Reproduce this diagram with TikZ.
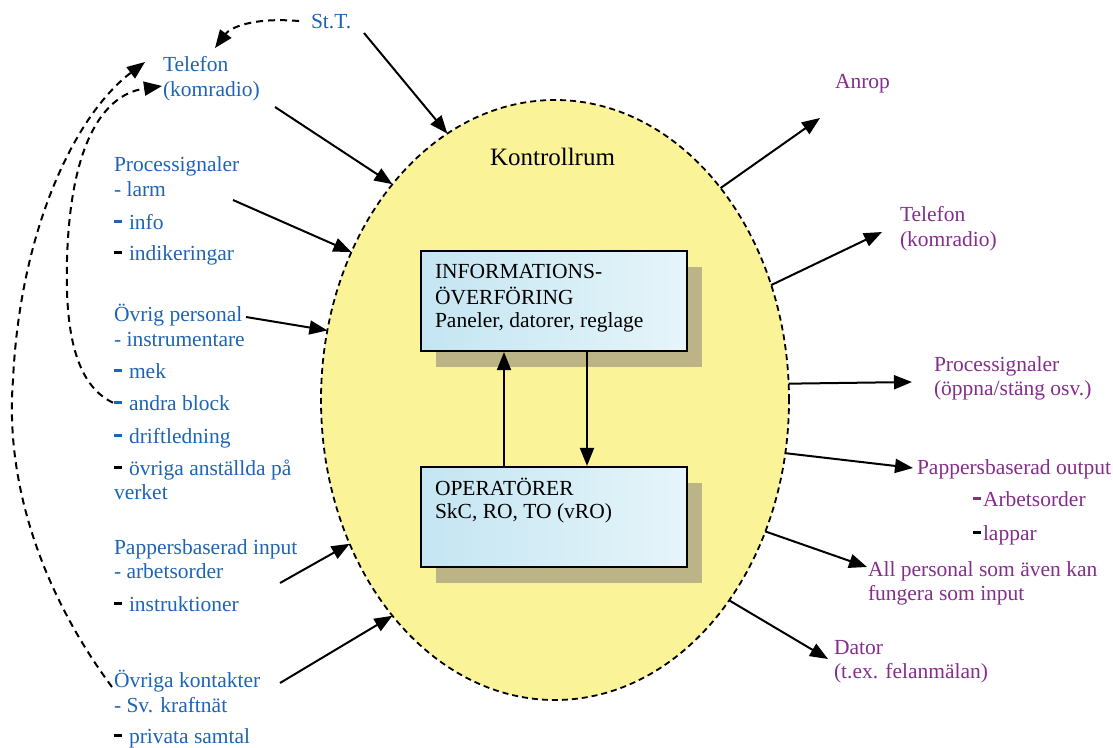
\documentclass[tikz,border=0pt]{standalone}
\usepackage{fontspec}
\setmainfont{Liberation Serif}
\usetikzlibrary{arrows.meta,shapes.geometric,shadows}

\definecolor{txtblue}{RGB}{30,100,180}
\definecolor{txtpurple}{RGB}{133,45,140}
\definecolor{roomfill}{RGB}{250,243,152}
\definecolor{boxtop}{RGB}{196,229,242}
\definecolor{boxbot}{RGB}{230,245,250}
\definecolor{shadowc}{RGB}{188,180,135}

% thick list dash in a given colour
\newcommand\bardash[1]{{\color{#1}\rule[6.2pt]{8pt}{2.8pt}}}

\begin{document}
\begin{tikzpicture}[x=1pt,y=-1pt,
  lbl/.style={anchor=base west,inner sep=0pt,outer sep=0pt,
              font=\fontsize{21.5}{24}\selectfont},
  inlbl/.style={lbl,text=txtblue},
  outlbl/.style={lbl,text=txtpurple},
  arrowline/.style={line width=2pt,-{Triangle[length=18pt,width=14pt]}},
  backlink/.style={arrowline,dash pattern=on 7pt off 5pt},
  panel/.style={draw,line width=2.2pt,left color=boxtop,right color=boxbot,
                minimum width=266pt,minimum height=100pt,inner sep=0pt,
                drop shadow={shadow xshift=15pt,shadow yshift=-16pt,
                             fill=shadowc,opacity=1}},
]
\useasboundingbox (0,0) rectangle (1113,747);

% the control room
\node[ellipse,draw,fill=roomfill,line width=1.8pt,dash pattern=on 6pt off 4pt,
      minimum width=468pt,minimum height=600pt,inner sep=0pt,outer sep=0pt]
      (room) at (555,400) {};
\node[lbl,font=\fontsize{25}{28}\selectfont] (roomlbl) at (490,165) {Kontrollrum};

% inner boxes
\node[panel] (info) at (554,301) {};
\node[panel] (ops) at (554,517) {};
\node[lbl] (infoT1) at (435,278) {INFORMATIONS-};
\node[lbl] (infoT2) at (435,304) {ÖVERFÖRING};
\node[lbl] (infoT3) at (435,327) {Paneler, datorer, reglage};
\node[lbl] (opsT1) at (435,495) {OPERATÖRER};
\node[lbl] (opsT2) at (435,518) {SkC, RO, TO (vRO)};
\draw[arrowline] ([xshift=-50pt]ops.north) -- ([xshift=-50pt]info.south);
\draw[arrowline] ([xshift=33pt]info.south) -- ([xshift=33pt]ops.north);

% incoming labels
\node[inlbl] (stt) at (311,28) {St.T.};
\node[inlbl] (telL1) at (163,71) {Telefon};
\node[inlbl] (telL2) at (163,96) {(komradio)};
\node[inlbl] (procL1) at (114,171) {Processignaler};
\node[inlbl] (procL2) at (114,196) {- larm};
\node[inlbl] (procL3) at (114,229) {\bardash{txtblue}\hspace{7pt}info};
\node[inlbl] (procL4) at (114,260) {\bardash{black}\hspace{7pt}indikeringar};
\node[inlbl] (persL1) at (114,321) {Övrig personal};
\node[inlbl] (persL2) at (114,346) {- instrumentare};
\node[inlbl] (persL3) at (114,378) {\bardash{txtblue}\hspace{7pt}mek};
\node[inlbl] (persL4) at (114,410) {\bardash{txtblue}\hspace{7pt}andra block};
\node[inlbl] (persL5) at (114,443) {\bardash{txtblue}\hspace{7pt}driftledning};
\node[inlbl] (persL6) at (114,475) {\bardash{black}\hspace{7pt}övriga anställda på};
\node[inlbl] (persL7) at (114,499) {verket};
\node[inlbl] (papL1) at (114,554) {Pappersbaserad input};
\node[inlbl] (papL2) at (114,578) {- arbetsorder};
\node[inlbl] (papL3) at (114,611) {\bardash{black}\hspace{7pt}instruktioner};
\node[inlbl] (kontL1) at (114,687) {Övriga kontakter};
\node[inlbl] (kontL2) at (114,712) {- Sv. kraftnät};
\node[inlbl] (kontL3) at (114,743) {\bardash{black}\hspace{7pt}privata samtal};

% outgoing labels
\node[outlbl] (anrop) at (835,88) {Anrop};
\node[outlbl] (telR1) at (900,221) {Telefon};
\node[outlbl] (telR2) at (900,246) {(komradio)};
\node[outlbl] (procR1) at (934,371) {Processignaler};
\node[outlbl] (procR2) at (934,395) {(öppna/stäng osv.)};
\node[outlbl] (papR1) at (917,474) {Pappersbaserad output};
\node[outlbl] (papR2) at (973,506) {\bardash{txtpurple}\hspace{2pt}Arbetsorder};
\node[outlbl] (papR3) at (973,540) {\bardash{black}\hspace{2pt}lappar};
\node[outlbl] (allR1) at (868,576) {All personal som även kan};
\node[outlbl] (allR2) at (868,600) {fungera som input};
\node[outlbl] (datR1) at (834,654) {Dator};
\node[outlbl] (datR2) at (834,678) {(t.ex. felanmälan)};

% free ends of the connectors
\coordinate (sttTail) at (364,33);
\coordinate (telLTail) at (275,107);
\coordinate (procLTail) at (233,200);
\coordinate (persLTail) at (246,317);
\coordinate (papLTail) at (280,583);
\coordinate (kontLTail) at (280,683);
\coordinate (anropHead) at (820,118);
\coordinate (telRHead) at (882,232);
\coordinate (procRHead) at (912,382);
\coordinate (papRHead) at (913,468);
\coordinate (allRHead) at (867,567);
\coordinate (datRHead) at (828,659);
\coordinate (telTopTip) at (215,48);
\coordinate (telOuterTip) at (145,62);
\coordinate (telInnerTip) at (162,86);

% inputs to the control room
\draw[arrowline] (sttTail) -- (room.112);
\draw[arrowline] (telLTail) -- (room.127.4);
\draw[arrowline] (procLTail) -- (room.144.7);
\draw[arrowline] (persLTail) -- (room.163);
\draw[arrowline] (papLTail) -- (room.215.8);
\draw[arrowline] (kontLTail) -- (room.233.4);

% outputs from the control room
\draw[arrowline] (room.52.8) -- (anropHead);
\draw[arrowline] (room.28.6) -- (telRHead);
\draw[arrowline] (room.4.2) -- (procRHead);
\draw[arrowline] (room.-13.3) -- (papRHead);
\draw[arrowline] (room.-32.3) -- (allRHead);
\draw[arrowline] (room.-49.7) -- (datRHead);

% dashed feedback links to the telephone
\draw[backlink] ([xshift=-12pt]stt.west) .. controls (252,17) and (230,28) .. (telTopTip);
\draw[backlink] ([xshift=-2pt]kontL1.base west) .. controls (40,590) and (5,480) .. (13,380)
  .. controls (20,230) and (75,115) .. (telOuterTip);
\draw[backlink] ([xshift=-1pt]persL4.west) .. controls (75,385) and (65,330) .. (67,260)
  .. controls (70,150) and (100,95) .. (telInnerTip);
\end{tikzpicture}
\end{document}
